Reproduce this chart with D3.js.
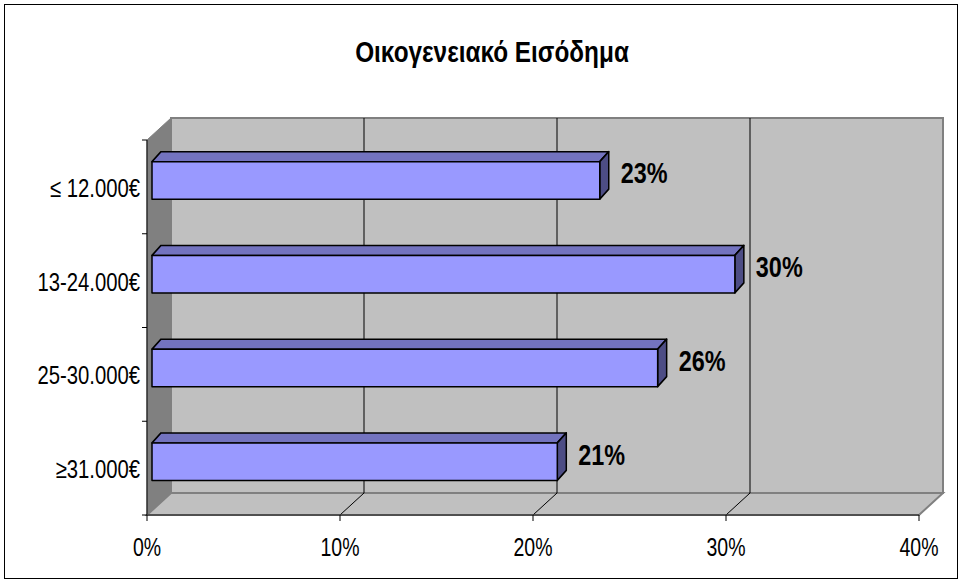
<!DOCTYPE html>
<html>
<head>
<meta charset="utf-8">
<script src="https://d3js.org/d3.v7.min.js"></script>
<style>
  body { margin: 0; background: #fff; }
  text { font-family: "Liberation Sans", Arial, sans-serif; fill: #000; }
</style>
</head>
<body>
<script>

var title = "Οικογενειακό Εισόδημα";
var categories = ["≤ 12.000€", "13-24.000€", "25-30.000€", "≥31.000€"];
var values = [0.232, 0.302, 0.262, 0.210];
var ticks = [0, 0.1, 0.2, 0.3, 0.4];

var W = 963, H = 584;
var narrow = 0.8;   // squeeze text to look like Arial Narrow

// depth of the 3d box and of the bars
var DX = 24, DY = 22;
var bdx = 9, bdy = 10;

var svg = d3.select("body").append("svg")
    .attr("width", W)
    .attr("height", H);

// outer frame
svg.append("rect")
    .attr("x", 4.5).attr("y", 4.5)
    .attr("width", 953).attr("height", 574)
    .attr("fill", "#fff")
    .attr("stroke", "#000")
    .attr("stroke-width", 1);

var x = d3.scaleLinear().domain([0, 0.4]).range([147, 919]);
var y = d3.scaleBand().domain(categories).range([140, 515])
    .paddingInner(0.6).paddingOuter(0.3);

var x0 = x(0), x1 = x(0.4), yTop = y.range()[0], yBot = y.range()[1];

// side wall
svg.append("polygon")
    .attr("points", [[x0, yTop], [x0 + DX, yTop - DY], [x0 + DX, yBot - DY], [x0, yBot]].join(" "))
    .attr("fill", "#808080")
    .attr("stroke", "#808080");

// back wall
svg.append("rect")
    .attr("x", x0 + DX).attr("y", yTop - DY)
    .attr("width", x1 - x0).attr("height", yBot - yTop)
    .attr("fill", "#c0c0c0")
    .attr("stroke", "#808080")
    .attr("stroke-width", 2);

// floor
svg.append("polygon")
    .attr("points", [[x0, yBot], [x1, yBot], [x1 + DX, yBot - DY], [x0 + DX, yBot - DY]].join(" "))
    .attr("fill", "#c0c0c0")
    .attr("stroke", "#808080")
    .attr("stroke-width", 2);

// gridlines on wall + floor
var grid = ticks.filter(function(t) { return t > 0 && t < 0.4; });
svg.selectAll(".grid")
    .data(grid)
  .enter().append("path")
    .attr("class", "grid")
    .attr("d", function(t) {
      return "M" + (x(t) + DX) + "," + (yTop - DY) +
             "L" + (x(t) + DX) + "," + (yBot - DY) +
             "L" + x(t) + "," + yBot;
    })
    .attr("fill", "none")
    .attr("stroke", "#000")
    .attr("stroke-width", 1);

// y axis
svg.append("line")
    .attr("x1", x0).attr("x2", x0)
    .attr("y1", yTop).attr("y2", yBot)
    .attr("stroke", "#000");

var bounds = categories.map(function(c) { return y(c) - y.step() * y.paddingInner() / 2; });
bounds.push(yBot);
bounds[0] = yTop;
svg.selectAll(".ytick")
    .data(bounds)
  .enter().append("line")
    .attr("x1", x0 - 5).attr("x2", x0)
    .attr("y1", function(d) { return d; })
    .attr("y2", function(d) { return d; })
    .attr("stroke", "#000");

svg.selectAll(".ylab")
    .data(categories)
  .enter().append("text")
    .attr("transform", function(c) {
      return "translate(140," + (y(c) + y.bandwidth() / 2 + 1) + ") scale(0.78,1)";
    })
    .attr("text-anchor", "end")
    .attr("dominant-baseline", "central")
    .attr("font-size", 26)
    .text(function(c) { return c; });

// x axis
svg.append("line")
    .attr("x1", x0).attr("x2", x1)
    .attr("y1", yBot).attr("y2", yBot)
    .attr("stroke", "#404040")
    .attr("stroke-width", 1.5);

svg.selectAll(".xtick")
    .data(ticks)
  .enter().append("line")
    .attr("x1", function(t) { return x(t); })
    .attr("x2", function(t) { return x(t); })
    .attr("y1", yBot).attr("y2", yBot + 6)
    .attr("stroke", "#000");

svg.selectAll(".xlab")
    .data(ticks)
  .enter().append("text")
    .attr("transform", function(t) {
      return "translate(" + x(t) + ",556) scale(0.78,1)";
    })
    .attr("text-anchor", "middle")
    .attr("font-size", 25)
    .text(d3.format(".0%"));

// bars
var bars = svg.selectAll(".bar")
    .data(categories)
  .enter().append("g")
    .attr("class", "bar");

function pts(a) { return a.join(" "); }

bars.each(function(c, i) {
  var g = d3.select(this);
  var bx0 = x(0) + 5, bx1 = x(values[i]) + 5;
  var by0 = y(c) - 6.5, by1 = by0 + y.bandwidth();

  g.append("polygon")
      .attr("points", pts([[bx0, by0], [bx0 + bdx, by0 - bdy], [bx1 + bdx, by0 - bdy], [bx1, by0]]))
      .attr("fill", "#7373bf");
  g.append("polygon")
      .attr("points", pts([[bx1, by0], [bx1 + bdx, by0 - bdy], [bx1 + bdx, by1 - bdy], [bx1, by1]]))
      .attr("fill", "#4d4d85");
  g.append("rect")
      .attr("x", bx0).attr("y", by0)
      .attr("width", bx1 - bx0).attr("height", by1 - by0)
      .attr("fill", "#9999ff");
  g.selectAll("polygon, rect")
      .attr("stroke", "#000")
      .attr("stroke-width", 1.5)
      .attr("stroke-linejoin", "round");

  g.append("text")
      .attr("transform", "translate(" + (bx1 + 21) + "," + ((by0 + by1) / 2 - 7) + ") scale(0.78,1)")
      .attr("dominant-baseline", "central")
      .attr("font-size", 30)
      .attr("font-weight", "bold")
      .text(d3.format(".0%")(values[i]));
});

// title
svg.append("text")
    .attr("transform", "translate(492,62) scale(0.84,1)")
    .attr("text-anchor", "middle")
    .attr("font-size", 29)
    .attr("font-weight", "bold")
    .text(title);

</script>
</body>
</html>
